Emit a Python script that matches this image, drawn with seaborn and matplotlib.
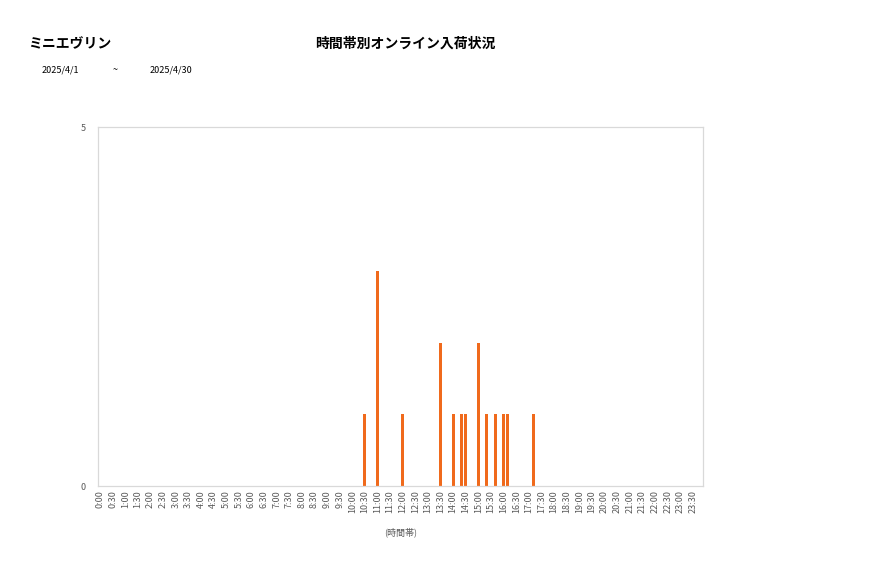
import numpy as np
import pandas as pd
import matplotlib
matplotlib.use("Agg")
import matplotlib.pyplot as plt
import seaborn as sns

# 10-minute slots across the day, labels shown every 30 min
SLOTS = [f"{h}:{m:02d}" for h in range(24) for m in (0, 10, 20, 30, 40, 50)]

# slots that had arrivals and their counts
arrival_slots  = ["10:30", "11:00", "12:00", "13:30", "14:00", "14:20", "14:30",
                  "15:00", "15:20", "15:40", "16:00", "16:10", "17:10"]
arrival_counts = [1, 3, 1, 2, 1, 1, 1, 2, 1, 1, 1, 1, 1]

PRODUCT   = "ミニエヴリン"
TITLE     = "時間帯別オンライン入荷状況"
DATE_FROM = "2025/4/1"
DATE_TO   = "2025/4/30"
XLABEL    = "(時間帯)"

BAR_COLOR  = "#F06A1C"
TEXT_GRAY  = "#595959"
FRAME_GRAY = "#D9D9D9"

counts = dict(zip(arrival_slots, arrival_counts))
df = pd.DataFrame({"slot": SLOTS, "count": [counts.get(s, 0) for s in SLOTS]})

sns.set_theme(style="white")
plt.rcParams["font.family"] = ["Noto Sans CJK JP", "DejaVu Sans"]

fig = plt.figure(figsize=(8.77, 5.78), dpi=100)
ax = fig.add_axes([0.1117, 0.159, 0.6903, 0.621])

sns.barplot(data=df, x="slot", y="count", order=SLOTS, color=BAR_COLOR,
            width=0.72, saturation=1, linewidth=0, edgecolor=BAR_COLOR, ax=ax)

ax.set_xlim(-0.5, len(SLOTS) - 0.5)
ax.set_ylim(0, 5)
ax.set_yticks([0, 5])
ax.set_yticklabels(["0", "5"], fontsize=6.5, color=TEXT_GRAY)
tick_idx = list(range(0, len(SLOTS), 3))
ax.set_xticks(tick_idx)
ax.set_xticklabels([SLOTS[i] for i in tick_idx], rotation=90, fontsize=6.5,
                   color=TEXT_GRAY)
ax.tick_params(axis="x", length=0, pad=3)
ax.tick_params(axis="y", length=0, pad=9)
ax.set_xlabel(XLABEL, fontsize=6.5, color=TEXT_GRAY, labelpad=10)
ax.set_ylabel("")
for sp in ax.spines.values():
    sp.set_color(FRAME_GRAY)
    sp.set_linewidth(0.9)

fig.text(28 / 877, 1 - 44 / 578, PRODUCT, fontsize=10, fontweight="bold",
         color="black", ha="left", va="center")
fig.text(405 / 877, 1 - 44 / 578, TITLE, fontsize=10, fontweight="bold",
         color="black", ha="center", va="center")
fig.text(42 / 877, 1 - 70 / 578, DATE_FROM, fontsize=6.5, color="black",
         ha="left", va="center")
fig.text(115 / 877, 1 - 70 / 578, "~", fontsize=6.5, color="black",
         ha="center", va="center")
fig.text(150 / 877, 1 - 70 / 578, DATE_TO, fontsize=6.5, color="black",
         ha="left", va="center")

fig.savefig("out.png", dpi=100)
